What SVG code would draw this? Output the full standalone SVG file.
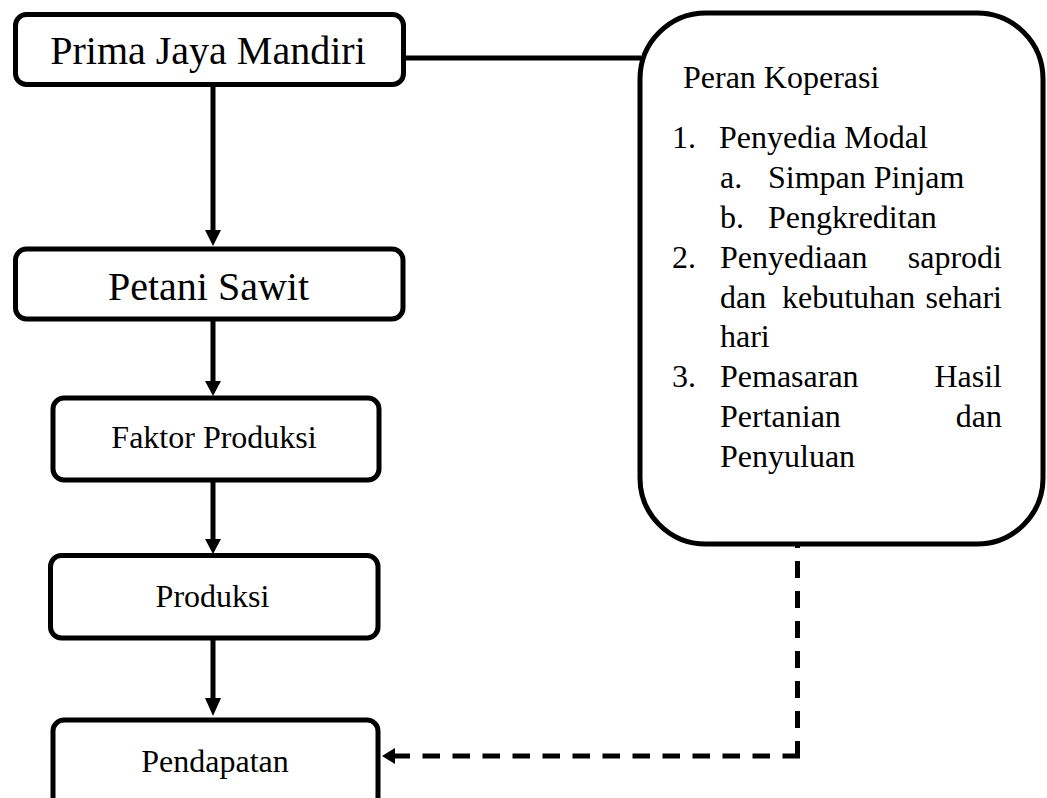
<svg xmlns="http://www.w3.org/2000/svg" width="1047" height="798" viewBox="0 0 1047 798">
<style>
.box{fill:#fff;stroke:#000;stroke-width:5}
.t{font-family:"Liberation Serif","Times New Roman",serif;fill:#000}
.big{font-size:40px}
.mid{font-size:32px}
.ln{fill:none;stroke:#000;stroke-width:5}
.dash{fill:none;stroke:#000;stroke-width:5;stroke-dasharray:17 13}
</style>
<rect width="1047" height="798" fill="#fff"/>
<g id="connectors">
<line class="ln" x1="404" y1="58" x2="641" y2="58"/>
<line class="ln" x1="213" y1="86" x2="213" y2="232"/>
<polygon points="205,230 221,230 213,246"/>
<line class="ln" x1="213" y1="320" x2="213" y2="383"/>
<polygon points="205,381 221,381 213,396"/>
<line class="ln" x1="213" y1="481" x2="213" y2="541"/>
<polygon points="205,539 221,539 213,554"/>
<line class="ln" x1="213" y1="639" x2="213" y2="700"/>
<polygon points="205,698 221,698 213,716"/>
<line class="dash" x1="797.5" y1="531" x2="797.5" y2="758"/>
<line class="dash" style="stroke-dasharray:17.5 12.5" x1="800" y1="756" x2="393" y2="756"/>
<polygon points="382,756 395,748 395,764"/>
</g>
<g id="node-prima">
<rect class="box" x="15.5" y="14.5" width="388" height="70" rx="11"/>
<text class="t big" x="208" y="64" text-anchor="middle">Prima Jaya Mandiri</text>
</g>
<g id="node-petani">
<rect class="box" x="15.5" y="249" width="387.5" height="70" rx="11"/>
<text class="t big" x="208.5" y="300" text-anchor="middle">Petani Sawit</text>
</g>
<g id="node-faktor">
<rect class="box" x="53" y="398" width="326" height="82" rx="11"/>
<text class="t mid" x="214" y="448" text-anchor="middle">Faktor Produksi</text>
</g>
<g id="node-produksi">
<rect class="box" x="50.5" y="555.5" width="327.5" height="82.5" rx="11"/>
<text class="t mid" x="212.5" y="607" text-anchor="middle">Produksi</text>
</g>
<g id="node-pendapatan">
<rect class="box" x="53" y="720" width="325" height="88" rx="11"/>
<text class="t mid" x="215" y="772" text-anchor="middle">Pendapatan</text>
</g>
<g id="node-peran">
<rect class="box" x="640" y="13" width="403" height="531" rx="66"/>
<g class="t mid">
<text x="683" y="88">Peran Koperasi</text>
<text x="672" y="148">1.</text>
<text x="719" y="148">Penyedia Modal</text>
<text x="720" y="188">a.</text>
<text x="768" y="188">Simpan Pinjam</text>
<text x="720" y="228">b.</text>
<text x="768" y="228">Pengkreditan</text>
<text x="672" y="268">2.</text>
<text x="720" y="268">Penyediaan</text>
<text x="1002" y="268" text-anchor="end">saprodi</text>
<text x="720" y="308">dan</text>
<text x="782" y="308">kebutuhan</text>
<text x="1002" y="308" text-anchor="end">sehari</text>
<text x="720" y="347">hari</text>
<text x="672" y="387">3.</text>
<text x="720" y="387">Pemasaran</text>
<text x="1002" y="387" text-anchor="end">Hasil</text>
<text x="720" y="427">Pertanian</text>
<text x="1002" y="427" text-anchor="end">dan</text>
<text x="720" y="467">Penyuluan</text>
</g>
</g>
</svg>
